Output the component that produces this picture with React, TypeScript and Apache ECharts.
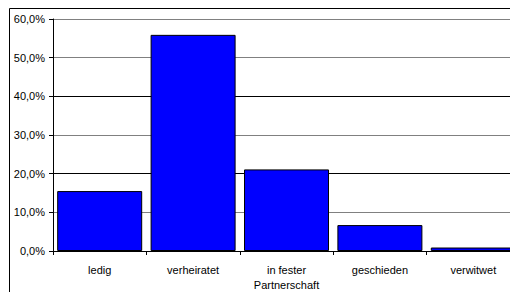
import React, { useEffect, useRef } from "react";
import * as echarts from "echarts";

const categories = ["ledig", "verheiratet", "in fester\nPartnerschaft", "geschieden", "verwitwet"];
const values = [15.5, 55.9, 21.1, 6.7, 0.9];
const gridColors = ["#000000", "#808080", "#000000", "#808080", "#000000", "#808080", "#808080"];

export default function App() {
  const ref = useRef<HTMLDivElement>(null);
  useEffect(() => {
    const chart = echarts.init(ref.current!, undefined, { renderer: "svg" });
    const font = "Liberation Sans, Arial, sans-serif";
    chart.setOption({
      animation: false,
      backgroundColor: "#ffffff",
      graphic: [
        {
          type: "rect",
          shape: { x: 9.5, y: 8.5, width: 700, height: 400 },
          style: { fill: "none", stroke: "#000000", lineWidth: 1 },
          z: 100,
        },
      ],
      grid: { left: 53, top: 19, width: 467, height: 234 },
      xAxis: {
        type: "category",
        data: categories,
        axisLine: { lineStyle: { color: "#000000", width: 1 } },
        axisTick: { show: true, length: 4, lineStyle: { color: "#000000" } },
        axisLabel: {
          color: "#000000",
          fontFamily: font,
          fontSize: 11,
          margin: 11,
          lineHeight: 15,
          interval: 0,
        },
      },
      yAxis: {
        type: "value",
        min: 0,
        max: 60,
        interval: 10,
        axisLine: { show: true, lineStyle: { color: "#000000", width: 1 } },
        axisTick: { show: true, length: 4, lineStyle: { color: "#000000" } },
        splitLine: { show: true, lineStyle: { color: gridColors, width: 1 } },
        axisLabel: {
          color: "#000000",
          fontFamily: font,
          fontSize: 11,
          margin: 8,
          formatter: (v: number) => v.toFixed(1).replace(".", ",") + "%",
        },
      },
      series: [
        {
          type: "bar",
          data: values,
          barWidth: 85,
          itemStyle: { color: "#0000ff", borderColor: "#000000", borderWidth: 1 },
        },
      ],
    });
    return () => chart.dispose();
  }, []);
  return (
    <div
      ref={ref}
      style={{ position: "fixed", left: 0, top: 0, width: 540, height: 292 }}
    />
  );
}
